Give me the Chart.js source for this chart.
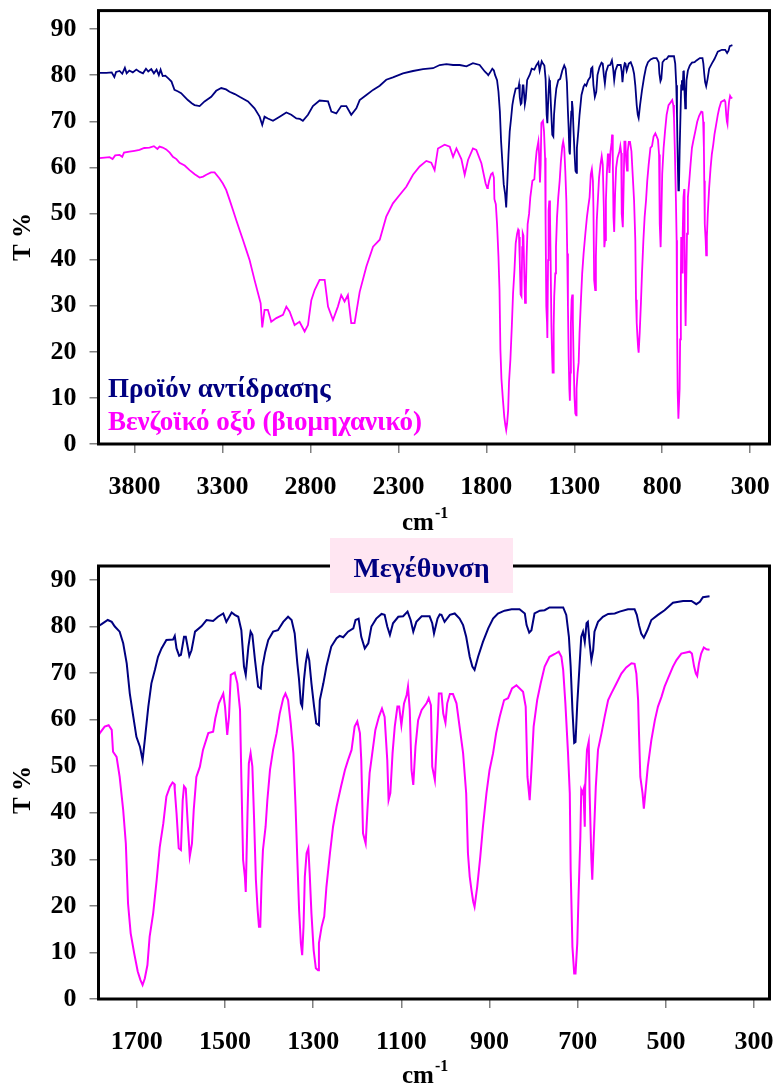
<!DOCTYPE html>
<html>
<head>
<meta charset="utf-8">
<title>IR spectra</title>
<script src="https://cdn.jsdelivr.net/npm/chart.js@4.4.1/dist/chart.umd.min.js"></script>
<style>
  html, body { margin: 0; padding: 0; background: #fff; }
  #wrap { position: relative; width: 776px; height: 1086px; }
  #fullBox { position: absolute; left: 0; top: 0; width: 776px; height: 536px; }
  #zoomBox { position: absolute; left: 0; top: 536px; width: 776px; height: 550px; }
</style>
</head>
<body>
<div id="wrap">
  <div id="fullBox"><canvas id="fullChart" width="776" height="536"></canvas></div>
  <div id="zoomBox"><canvas id="zoomChart" width="776" height="550"></canvas></div>
</div>
<script>
// ========================
// DATA
// ========================
const seriesNames = ["Προϊόν αντίδρασης", "Βενζοϊκό οξύ (βιομηχανικό)"];
const seriesColors = ["#000080", "#FF00FF"];
const yTicks = [0, 10, 20, 30, 40, 50, 60, 70, 80, 90];
const xTicksFull = [3800, 3300, 2800, 2300, 1800, 1300, 800, 300];
const xTicksZoom = [1700, 1500, 1300, 1100, 900, 700, 500, 300];
const zoomTitle = "Μεγέθυνση";
const yTitle = "T %";

// [wavenumber cm-1, T %]
const productSpectrum = [
  [4000, 80.5], [3960, 80.5], [3930, 80.6], [3915, 79.6], [3905, 80.7], [3885, 80.9], [3870, 80.3],
  [3855, 81.6], [3845, 80.4], [3830, 81.0], [3810, 80.6], [3790, 81.2], [3770, 80.7], [3752, 80.4],
  [3735, 81.4], [3722, 80.8], [3705, 81.3], [3690, 80.4], [3675, 81.2], [3662, 80.0], [3652, 81.2],
  [3640, 79.8], [3625, 79.9], [3605, 79.2], [3590, 78.6], [3573, 76.8], [3555, 76.5], [3535, 76.1],
  [3515, 75.3], [3497, 74.6], [3475, 73.9], [3459, 73.5], [3430, 73.3], [3402, 74.3], [3364, 75.3],
  [3336, 76.6], [3307, 77.2], [3280, 76.9], [3260, 76.4], [3230, 75.9], [3203, 75.3], [3155, 74.3],
  [3118, 72.8], [3089, 71.0], [3074, 69.2], [3061, 71.0], [3042, 70.6], [3013, 70.1], [2975, 71.0],
  [2937, 71.9], [2909, 71.4], [2880, 70.6], [2860, 70.5], [2843, 70.1], [2814, 71.4], [2786, 73.3],
  [2748, 74.5], [2700, 74.3], [2681, 72.1], [2653, 71.7], [2625, 73.3], [2596, 73.3], [2568, 71.4],
  [2539, 72.8], [2520, 74.6], [2482, 75.7], [2444, 76.8], [2406, 77.7], [2369, 79.0], [2331, 79.5],
  [2274, 80.4], [2217, 80.9], [2160, 81.3], [2103, 81.5], [2065, 82.2], [2027, 82.4], [1989, 82.2],
  [1951, 82.2], [1913, 81.9], [1876, 82.6], [1838, 82.2], [1809, 80.8], [1795, 80.3],
  [1789, 80.0], [1780, 80.5], [1766, 81.4], [1757, 81.0], [1750, 80.0], [1739, 78.9], [1731, 76.4],
  [1723, 72.1], [1716, 65.6], [1708, 60.6], [1701, 56.3], [1693, 54.2], [1687, 51.3], [1682, 55.6],
  [1674, 62.8], [1667, 67.8], [1659, 70.7], [1652, 73.5], [1644, 75.3], [1633, 77.1], [1618, 77.2],
  [1614, 78.0], [1610, 75.3], [1604, 73.7], [1600, 73.9], [1593, 77.8], [1589, 77.8], [1581, 73.7],
  [1576, 74.9], [1568, 78.9], [1553, 80.1], [1542, 81.4], [1527, 81.2], [1516, 82.1], [1504, 82.8],
  [1497, 81.0], [1485, 83.0], [1478, 82.5], [1470, 82.1], [1463, 79.2], [1457, 71.4], [1453, 69.6],
  [1447, 75.7], [1442, 78.9], [1438, 78.2], [1432, 72.8], [1425, 67.1], [1419, 66.7], [1415, 71.4],
  [1409, 74.5], [1402, 77.1], [1391, 78.9], [1380, 79.2], [1368, 81.0], [1357, 82.1], [1349, 81.4],
  [1342, 78.5], [1336, 72.1], [1332, 68.5], [1328, 63.5], [1325, 62.8], [1321, 68.5], [1317, 72.1],
  [1313, 74.4], [1309, 72.8], [1304, 67.8], [1298, 62.8], [1293, 59.2], [1287, 58.8], [1285, 64.2],
  [1277, 67.8], [1270, 71.4], [1259, 75.7], [1247, 77.5], [1240, 78.0], [1232, 77.7], [1221, 78.9],
  [1209, 79.6], [1204, 81.4], [1197, 81.7], [1191, 77.8], [1183, 75.3], [1175, 76.4], [1168, 80.0],
  [1157, 81.7], [1145, 82.7], [1138, 82.5], [1132, 80.0], [1126, 78.2], [1119, 80.7], [1107, 82.1],
  [1096, 82.2], [1086, 83.2], [1079, 81.4], [1073, 78.9], [1066, 81.0], [1054, 82.2], [1036, 82.2],
  [1030, 80.7], [1026, 78.5], [1018, 81.7], [1013, 82.6], [1009, 82.5], [1002, 81.0], [990, 82.5],
  [979, 82.8], [968, 81.7], [960, 80.3], [953, 77.8], [945, 73.5], [939, 71.4], [934, 70.7],
  [926, 73.5], [915, 76.7], [903, 79.6], [892, 81.7], [881, 82.8], [866, 83.4], [850, 83.7],
  [832, 83.7], [820, 82.8], [816, 80.3], [810, 78.7], [805, 79.2], [798, 82.8], [786, 83.4],
  [775, 83.5], [764, 84.1], [733, 84.1], [726, 82.5], [720, 77.8], [716, 71.4], [712, 62.1],
  [708, 55.0], [705, 55.2], [701, 63.5], [696, 71.4], [692, 77.8], [688, 78.9], [684, 76.7],
  [680, 80.7], [677, 81.0], [673, 76.4], [669, 72.8], [665, 74.9], [662, 78.9], [654, 81.0],
  [643, 82.1], [631, 82.7], [616, 82.8], [605, 83.2], [586, 83.7], [571, 83.7], [566, 82.5],
  [561, 80.3], [556, 78.5], [550, 77.6], [542, 79.2], [533, 81.4], [518, 82.5], [503, 83.5],
  [484, 85.1], [461, 85.5], [442, 85.5], [431, 84.8], [423, 85.3], [416, 86.3], [401, 86.5]
];

const acidSpectrum = [
  [4000, 62.0], [3970, 62.1], [3942, 62.2], [3925, 61.8], [3910, 62.6], [3885, 62.7], [3870, 62.3],
  [3860, 63.2], [3829, 63.4], [3800, 63.6], [3772, 63.8], [3745, 64.2], [3715, 64.3], [3690, 64.6],
  [3670, 64.0], [3658, 64.5], [3640, 64.3], [3620, 63.9], [3600, 63.2], [3582, 62.3], [3562, 61.8],
  [3544, 61.0], [3515, 60.4], [3487, 59.4], [3458, 58.5], [3430, 57.8], [3410, 58.0], [3392, 58.4],
  [3365, 58.9], [3345, 58.9], [3317, 57.6], [3298, 56.5], [3279, 55.1], [3260, 53.0], [3241, 50.8],
  [3222, 48.6], [3203, 46.4], [3184, 44.3], [3165, 42.1], [3146, 39.9], [3118, 35.6], [3098, 32.7],
  [3083, 30.5], [3074, 25.3], [3061, 29.1], [3042, 29.1], [3023, 26.5], [2994, 27.3], [2956, 28.0],
  [2937, 29.8], [2918, 28.7], [2890, 25.8], [2862, 26.5], [2833, 24.4], [2814, 25.8], [2795, 31.2],
  [2776, 33.4], [2748, 35.6], [2719, 35.6], [2700, 29.8], [2672, 26.9], [2644, 29.8], [2625, 32.3],
  [2606, 30.9], [2587, 32.3], [2568, 26.2], [2549, 26.2], [2520, 33.0], [2482, 38.5], [2444, 42.8],
  [2406, 44.3], [2369, 49.3], [2331, 52.2], [2293, 54.0], [2255, 55.8], [2217, 58.4], [2179, 60.2],
  [2141, 61.4], [2113, 61.0], [2094, 59.4], [2075, 64.1], [2037, 64.9], [2008, 64.5], [1989, 62.3],
  [1970, 64.1], [1942, 61.8], [1923, 58.4], [1904, 61.6], [1876, 64.1], [1857, 63.8], [1828, 60.9],
  [1804, 56.5], [1795, 55.5],
  [1791, 55.8], [1784, 57.1], [1773, 58.5], [1764, 58.8], [1757, 57.8], [1754, 53.1], [1746, 52.0],
  [1739, 47.7], [1731, 40.6], [1725, 33.4], [1720, 20.5], [1714, 14.1], [1706, 9.8], [1698, 5.9],
  [1692, 4.1], [1687, 3.0], [1682, 4.4], [1676, 7.3], [1671, 13.4], [1663, 18.4], [1655, 25.6],
  [1648, 32.7], [1640, 37.7], [1633, 43.5], [1625, 45.6], [1619, 46.5], [1615, 46.2], [1614, 44.9],
  [1610, 39.9], [1605, 32.4], [1600, 32.0], [1596, 42.7], [1593, 45.7], [1589, 45.2], [1585, 38.4],
  [1580, 30.6], [1575, 33.4], [1571, 40.6], [1565, 47.7], [1557, 49.9], [1550, 53.5], [1538, 57.1],
  [1527, 57.4], [1522, 60.3], [1514, 63.5], [1504, 65.6], [1500, 62.8], [1495, 56.7], [1491, 60.6],
  [1487, 69.6], [1478, 70.1], [1472, 67.8], [1466, 62.1], [1463, 47.7], [1459, 29.9], [1455, 26.3],
  [1453, 23.0], [1449, 39.9], [1446, 50.6], [1442, 52.8], [1438, 49.9], [1434, 38.4], [1430, 25.6],
  [1426, 19.1], [1423, 15.5], [1420, 15.5], [1417, 25.6], [1414, 32.0], [1408, 37.0], [1404, 42.7],
  [1398, 49.2], [1391, 53.5], [1383, 57.1], [1376, 61.3], [1368, 64.6], [1363, 65.6], [1357, 64.2],
  [1351, 59.2], [1345, 52.8], [1340, 41.3], [1336, 29.9], [1332, 19.1], [1328, 12.0], [1325, 9.4],
  [1322, 15.5], [1319, 26.3], [1315, 31.3], [1311, 32.4], [1308, 27.0], [1304, 18.4], [1299, 10.5],
  [1294, 6.6], [1289, 6.2], [1287, 12.0], [1281, 15.5], [1275, 17.7], [1270, 24.1], [1262, 31.3],
  [1255, 37.0], [1247, 41.3], [1237, 45.6], [1228, 49.2], [1221, 51.3], [1213, 53.5], [1206, 58.5],
  [1200, 59.6], [1194, 57.1], [1191, 51.3], [1187, 35.6], [1181, 33.4], [1177, 40.6], [1172, 48.5],
  [1166, 52.8], [1159, 57.8], [1151, 60.6], [1144, 62.4], [1138, 60.6], [1132, 51.3], [1129, 42.7],
  [1125, 44.2], [1120, 52.8], [1115, 58.5], [1109, 62.8], [1105, 62.8], [1100, 58.8], [1094, 63.5],
  [1088, 65.3], [1085, 67.1], [1081, 62.1], [1077, 49.2], [1073, 46.0], [1068, 54.2], [1062, 59.9],
  [1054, 62.1], [1043, 63.5], [1038, 64.6], [1033, 63.1], [1030, 49.9], [1024, 47.0], [1018, 58.5],
  [1015, 65.6], [1009, 65.6], [1005, 61.3], [1000, 59.3], [996, 63.5], [990, 65.5], [983, 65.5],
  [975, 63.5], [968, 58.5], [960, 52.8], [953, 44.2], [949, 31.3], [945, 26.3], [941, 23.4],
  [937, 20.9], [934, 19.8], [928, 24.1], [921, 30.6], [915, 37.0], [907, 44.2], [900, 49.2],
  [892, 52.8], [885, 57.1], [877, 60.6], [867, 64.2], [858, 64.6], [849, 66.7], [839, 67.4],
  [824, 66.0], [818, 62.8], [814, 47.7], [809, 42.7], [805, 49.2], [800, 58.5], [792, 64.2],
  [784, 67.8], [775, 71.4], [764, 73.5], [752, 74.1], [743, 74.6], [737, 73.5], [733, 70.7],
  [728, 63.5], [722, 52.8], [718, 44.2], [716, 27.7], [712, 11.2], [708, 5.5], [705, 5.5],
  [701, 12.0], [698, 22.7], [694, 34.9], [692, 44.9], [689, 44.2], [687, 44.9], [684, 37.0],
  [683, 45.6], [679, 53.5], [675, 55.3], [673, 44.2], [669, 29.9], [667, 25.6], [664, 33.4],
  [659, 45.6], [654, 53.5], [646, 57.1], [639, 60.6], [631, 64.2], [624, 65.6], [612, 67.8],
  [601, 69.9], [590, 71.2], [578, 72.1], [571, 72.0], [567, 69.9], [563, 64.2], [561, 57.1],
  [558, 47.7], [553, 44.2], [550, 40.9], [546, 44.9], [541, 49.9], [533, 55.6], [525, 59.9],
  [518, 62.8], [510, 64.9], [503, 67.1], [495, 68.9], [484, 71.4], [476, 72.8], [465, 74.2],
  [446, 74.6], [441, 74.2], [436, 71.4], [432, 69.9], [429, 69.4], [425, 72.1], [420, 74.2],
  [414, 75.5], [408, 75.1], [401, 75.0]
];

// ========================
// HELPERS
// ========================
const FONT = '"Liberation Serif", "Times New Roman", serif';

function toPoints(pairs) {
  return pairs.map(p => ({ x: p[0], y: p[1] }));
}

function makeDatasets(width) {
  return [productSpectrum, acidSpectrum].map((s, i) => ({
    label: seriesNames[i],
    data: toPoints(s),
    borderColor: seriesColors[i],
    backgroundColor: seriesColors[i],
    borderWidth: width,
    pointRadius: 0,
    tension: 0,
    fill: false
  }));
}

// thick black frame round the plot area, plus axis titles
const framePlugin = {
  id: "frame",
  afterDatasetsDraw(chart, args, opts) {
    const { ctx, chartArea: a } = chart;
    ctx.save();
    ctx.strokeStyle = "#000";
    ctx.lineWidth = 3;
    ctx.strokeRect(a.left, a.top, a.right - a.left, a.bottom - a.top);

    // y title, rotated
    ctx.fillStyle = "#000";
    ctx.font = "bold 25px " + FONT;
    ctx.textAlign = "center";
    ctx.textBaseline = "middle";
    ctx.translate(24, opts.yTitleY);
    ctx.rotate(-Math.PI / 2);
    ctx.fillText(yTitle, 0, 0);
    ctx.restore();

    // x title cm-1 with superscript
    ctx.save();
    ctx.fillStyle = "#000";
    ctx.textAlign = "left";
    ctx.textBaseline = "alphabetic";
    ctx.font = "bold 25px " + FONT;
    ctx.fillText("cm", opts.unitX, opts.unitY);
    const w = ctx.measureText("cm").width;
    ctx.font = "bold 16px " + FONT;
    ctx.fillText("-1", opts.unitX + w + 1, opts.unitY - 12);
    ctx.restore();
  }
};

// series names written inside the plot (top chart)
const insideLegend = {
  id: "insideLegend",
  afterDraw(chart, args, opts) {
    if (!opts.show) return;
    const { ctx } = chart;
    ctx.save();
    ctx.font = "bold 27px " + FONT;
    ctx.textAlign = "left";
    ctx.textBaseline = "alphabetic";
    chart.data.datasets.forEach((ds, i) => {
      ctx.fillStyle = ds.borderColor;
      ctx.fillText(ds.label, opts.x, opts.y + i * 33);
    });
    ctx.restore();
  }
};

// pink label box (zoom chart)
const boxTitle = {
  id: "boxTitle",
  afterDraw(chart, args, opts) {
    if (!opts.text) return;
    const { ctx } = chart;
    ctx.save();
    ctx.fillStyle = "#FFE6F2";
    ctx.fillRect(opts.left, opts.top, opts.width, opts.height);
    ctx.fillStyle = "#000080";
    ctx.font = "bold 28px " + FONT;
    ctx.textAlign = "center";
    ctx.textBaseline = "alphabetic";
    ctx.fillText(opts.text, opts.left + opts.width / 2, opts.baseline);
    ctx.restore();
  }
};

function makeOptions(cfg) {
  return {
    responsive: false,
    animation: false,
    layout: { padding: { left: 0, right: 6.5, top: cfg.padTop, bottom: 0 } },
    plugins: {
      legend: { display: false },
      tooltip: { enabled: false },
      frame: { yTitleY: cfg.yTitleY, unitX: 402, unitY: cfg.unitY },
      insideLegend: cfg.legend || { show: false },
      boxTitle: cfg.box || {}
    },
    scales: {
      x: {
        type: "linear",
        reverse: true,
        min: cfg.xMin,
        max: cfg.xMax,
        afterBuildTicks: axis => { axis.ticks = cfg.xTicks.map(v => ({ value: v })); },
        ticks: {
          callback: v => String(v),
          autoSkip: false,
          maxRotation: 0,
          padding: 19,
          color: "#000",
          font: { family: FONT, size: 26, weight: "bold" }
        },
        grid: { display: true, drawOnChartArea: false, drawTicks: true, tickLength: 9, color: "#808080", lineWidth: 1.5 },
        border: { display: false },
        afterFit: s => { s.height = cfg.xAxisHeight; s.paddingLeft = 0; s.paddingRight = 0; }
      },
      y: {
        min: 0,
        max: cfg.yMax,
        afterBuildTicks: axis => { axis.ticks = yTicks.map(v => ({ value: v })); },
        ticks: {
          padding: 13,
          color: "#000",
          font: { family: FONT, size: 26, weight: "bold" }
        },
        grid: { display: true, drawOnChartArea: false, drawTicks: true, tickLength: 9, color: "#808080", lineWidth: 1.5 },
        border: { display: false },
        afterFit: s => { s.width = 98.5; s.paddingTop = 0; s.paddingBottom = 0; }
      }
    }
  };
}

// ========================
// CHARTS
// ========================
new Chart(document.getElementById("fullChart").getContext("2d"), {
  type: "line",
  data: { datasets: makeDatasets(1.8) },
  options: makeOptions({
    xMin: 190, xMax: 4005, yMax: 94, xTicks: xTicksFull,
    padTop: 10.6, xAxisHeight: 92, yTitleY: 237, unitY: 530,
    legend: { show: true, x: 108, y: 397 }
  }),
  plugins: [framePlugin, insideLegend, boxTitle]
});

new Chart(document.getElementById("zoomChart").getContext("2d"), {
  type: "line",
  data: { datasets: makeDatasets(2) },
  options: makeOptions({
    xMin: 265, xMax: 1787, yMax: 93, xTicks: xTicksZoom,
    padTop: 30, xAxisHeight: 87, yTitleY: 254, unitY: 547,
    box: { text: zoomTitle, left: 330, top: 2, width: 183, height: 55, baseline: 41 }
  }),
  plugins: [framePlugin, insideLegend, boxTitle]
});
</script>
</body>
</html>
